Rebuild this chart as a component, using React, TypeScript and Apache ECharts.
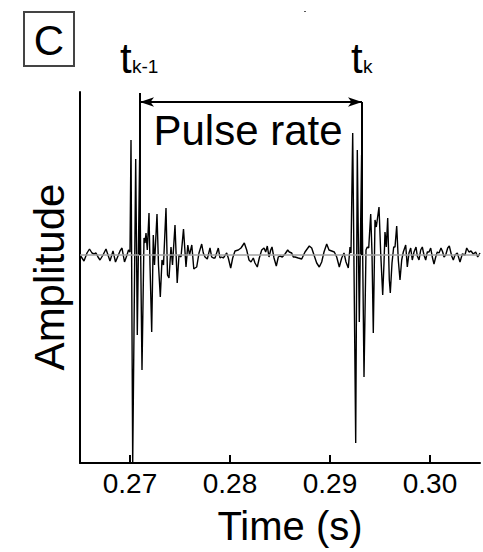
import React, { useEffect, useRef } from "react";
import * as echarts from "echarts";

// Time in milliseconds, amplitude in arbitrary units (baseline = 0)
const timeMs = [
  265.0, 265.2, 265.4, 265.7, 265.95, 266.2, 266.4, 266.6, 266.8, 267.0, 267.3, 267.6, 267.8, 268.0,
  268.3, 268.55, 268.8, 269.0, 269.2, 269.45, 269.7, 269.85, 270.0,
  270.1, 270.27, 270.57, 270.73, 270.96, 271.2, 271.4, 271.5, 271.6, 271.73, 271.9, 272.0, 272.17,
  272.33, 272.45, 272.7, 272.85, 273.03, 273.2, 273.35, 273.6, 273.75, 273.9, 274.1, 274.25, 274.5,
  274.72, 274.9, 275.1, 275.35, 275.6, 275.78, 275.95, 276.18, 276.38,
  276.5, 276.67, 276.9, 277.17, 277.33, 277.5, 277.73, 278.0, 278.17, 278.33, 278.5, 278.83, 279.0,
  279.17, 279.33, 279.67, 279.83, 280.07, 280.27, 280.5, 280.83, 281.1, 281.43, 281.67, 281.9, 282.1,
  282.33, 282.5, 282.73, 282.93, 283.17, 283.4, 283.57, 283.73, 283.9, 284.07, 284.2, 284.4, 284.63,
  284.83, 285.0, 285.23, 285.5, 285.77, 285.93, 286.17, 286.33, 286.5, 286.83, 287.17, 287.5, 287.93,
  288.17, 288.4, 288.67, 288.93, 289.17, 289.4, 289.67, 289.9, 290.17, 290.43, 290.67, 290.93, 291.17,
  291.4, 291.6, 291.83, 292.0, 292.1,
  292.27, 292.57, 292.73, 292.93, 293.16, 293.4, 293.6, 293.73, 293.87, 294.07, 294.2, 294.33, 294.5,
  294.63, 294.9, 295.07, 295.27, 295.4, 295.5, 295.63, 295.77, 295.93, 296.03, 296.2, 296.37, 296.5,
  296.67, 296.83, 297.0, 297.17, 297.33, 297.57, 297.73, 297.9, 298.07, 298.23, 298.4, 298.6, 298.73,
  298.9, 299.07, 299.23, 299.4, 299.57, 299.73, 299.9, 300.07, 300.23, 300.4, 300.57, 300.73, 300.9,
  301.1, 301.27, 301.4, 301.57, 301.77, 301.93, 302.17, 302.33, 302.5, 302.73, 303.0, 303.23, 303.5,
  303.67, 303.9, 304.1, 304.33, 304.57, 304.77, 305.0,
];

const amplitude = [
  0, -3, -6, 2, 6, 2, 1, 2, -2, -5, 0, 6, 0, -6,
  4, -7, -1, 4, 7, -7, 0, 5, 3,
  115, -208, 96, -80, 95, -115, 17, 12, 22, 5, 42, -10, -77,
  20, -10, 41, -10, -42, -5, -10, 47, -20, -23, 8, -10, 30,
  -28, 0, -2, 26, -12, 10, 0, 10, -14,
  -13, -12, 2, 11, 2, -2, -4, 7, -2, -3, -3, 7, -3,
  -2, -3, 2, -3, -13, -3, 4, 5, 7, 12, 5, -5, -7,
  -3, -8, -12, -3, 5, 7, 3, 9, -2, 5, 8, -3, -11,
  -2, -1, -2, 1, 5, 3, 2, -2, -2, -3, -4, 3, 9,
  7, 0, -8, -12, -7, 3, 11, 5, 4, 3, -2, -12, -3,
  2, -7, -13, 8, 2,
  122, -188, 105, -67, 100, -122, 5, 8, 7, 41, 2, -78, 35,
  28, 48, 2, -40, -8, 23, 8, 37, -25, -38, -8, 8, 8,
  29, -5, -25, -5, 3, 10, -12, 2, 7, -5, 3, 8, -1,
  -5, 5, 8, 0, -5, 3, 3, 7, -2, -9, -2, 3, 2,
  7, 3, -2, 0, 7, 9, -1, -5, 0, 2, -7, 1, 0,
  7, 3, 4, 1, 3, -2, 2,
];

const xTickValues = [0.27, 0.28, 0.29, 0.3];
const pulseTimes = [0.271, 0.2932]; // t_{k-1}, t_k
const xRange = [0.265, 0.305];
const yRange = [-208, 163];
const arrowLevel = 153;

const FONT = "Liberation Sans, Arial, Helvetica, sans-serif";

export default function App() {
  const ref = useRef<HTMLDivElement>(null);

  useEffect(() => {
    if (!ref.current) return;
    const chart = echarts.init(ref.current, null, { renderer: "svg" });
    const data = timeMs.map((t, i) => [t / 1000, amplitude[i]]);

    chart.setOption({
      animation: false,
      backgroundColor: "#ffffff",
      grid: { left: 80, right: 3, top: 92, bottom: 89, containLabel: false },
      xAxis: {
        type: "value",
        min: xRange[0],
        max: xRange[1],
        axisLine: { show: true, onZero: false, lineStyle: { color: "#000", width: 2 } },
        axisTick: {
          show: true,
          inside: true,
          length: 8,
          customValues: xTickValues,
          lineStyle: { color: "#000", width: 2 },
        },
        axisLabel: {
          show: true,
          customValues: xTickValues,
          formatter: (v: number) => v.toFixed(2),
          color: "#000",
          fontFamily: FONT,
          fontSize: 28,
          margin: 6,
        },
        splitLine: { show: false },
      },
      yAxis: {
        type: "value",
        min: yRange[0],
        max: yRange[1],
        axisLine: { show: true, onZero: false, lineStyle: { color: "#000", width: 2 } },
        axisTick: { show: false },
        axisLabel: { show: false },
        splitLine: { show: false },
      },
      series: [
        {
          type: "line",
          data,
          showSymbol: false,
          symbol: "none",
          lineStyle: { color: "#000", width: 1.4 },
          z: 2,
        },
        {
          type: "line",
          data: [
            [xRange[0], 0],
            [xRange[1], 0],
          ],
          showSymbol: false,
          symbol: "none",
          lineStyle: { color: "#a0a0a0", width: 1.3 },
          z: 3,
          markLine: {
            silent: true,
            symbol: "none",
            label: { show: false },
            lineStyle: { color: "#000", width: 2, type: "solid" },
            data: [
              [
                { coord: [pulseTimes[0], yRange[1] - 1] },
                { coord: [pulseTimes[0], 0] },
              ],
              [
                { coord: [pulseTimes[1], arrowLevel] },
                { coord: [pulseTimes[1], 0] },
              ],
              [
                { coord: [pulseTimes[0], arrowLevel], symbol: "arrow", symbolSize: [7, 14] },
                { coord: [pulseTimes[1], arrowLevel], symbol: "arrow", symbolSize: [7, 14] },
              ],
            ],
          },
        },
      ],
      graphic: [
        {
          type: "rect",
          shape: { x: 24, y: 12, width: 50, height: 54 },
          style: { fill: "none", stroke: "#444", lineWidth: 2 },
        },
        {
          type: "text",
          x: 49,
          y: 40,
          style: { text: "C", font: `42px ${FONT}`, fill: "#000", align: "center", verticalAlign: "middle" },
        },
        {
          type: "text",
          x: 120,
          y: 58,
          style: { text: "t", font: `42px ${FONT}`, fill: "#000", align: "left", verticalAlign: "middle" },
        },
        {
          type: "text",
          x: 132,
          y: 66,
          style: { text: "k-1", font: `19px ${FONT}`, fill: "#000", align: "left", verticalAlign: "middle" },
        },
        {
          type: "text",
          x: 351,
          y: 58,
          style: { text: "t", font: `42px ${FONT}`, fill: "#000", align: "left", verticalAlign: "middle" },
        },
        {
          type: "text",
          x: 363,
          y: 66,
          style: { text: "k", font: `19px ${FONT}`, fill: "#000", align: "left", verticalAlign: "middle" },
        },
        {
          type: "text",
          x: 248,
          y: 130,
          style: { text: "Pulse rate", font: `42px ${FONT}`, fill: "#000", align: "center", verticalAlign: "middle" },
        },
        {
          type: "text",
          x: 290,
          y: 526,
          style: { text: "Time (s)", font: `40px ${FONT}`, fill: "#000", align: "center", verticalAlign: "middle" },
        },
        {
          type: "text",
          x: 49,
          y: 277,
          rotation: Math.PI / 2,
          style: { text: "Amplitude", font: `42px ${FONT}`, fill: "#000", align: "center", verticalAlign: "middle" },
        },
        {
          type: "rect",
          shape: { x: 304, y: 11, width: 2, height: 1 },
          style: { fill: "#555" },
        },
      ],
    });

    return () => chart.dispose();
  }, []);

  return <div ref={ref} style={{ width: 483, height: 552, position: "absolute", left: 0, top: 0 }} />;
}
